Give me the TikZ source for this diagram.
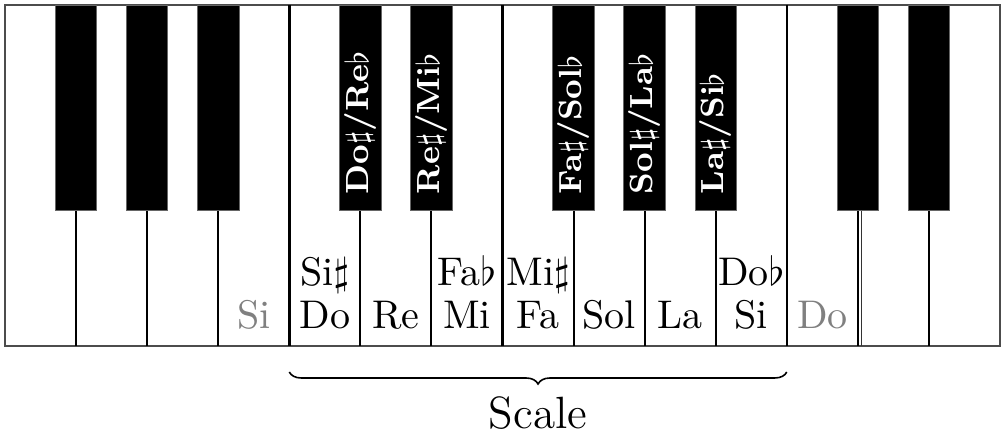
\documentclass[tikz,border=0pt]{standalone}
\usetikzlibrary{decorations.pathreplacing}
\begin{document}
\begin{tikzpicture}[x=0.25pt,y=-0.25pt,
  frame/.style={draw=black!70,line width=0.35pt},
  sep/.style={draw=black,line width=0.5pt},
  septhick/.style={draw=black,line width=0.8pt},
  septhin/.style={draw=black!80,line width=0.35pt},
  blackkey/.style={fill=black,draw=black!60,line width=0.2pt},
  note/.style={inner sep=0pt,anchor=base,font=\fontsize{10}{12}\selectfont},
  ghost/.style={note,text=black!50},
  blabel/.style={inner sep=0pt,anchor=west,rotate=90,text=white,font=\footnotesize\bfseries},
  scalebrace/.style={decorate,decoration={brace,mirror,amplitude=3pt},line width=0.4pt}]
\useasboundingbox (0,0) rectangle (1002,434);
\fill[white] (0,0) rectangle (1002,434);
\def\w{71.07}
% white keys frame
\draw[frame] (5,5) rectangle (1000,346);
% separators below black keys
\foreach \k in {1,2,3,5,6,8,9,10,12,13}
  \draw[sep] ({5+\k*\w},210) -- ({5+\k*\w},346);
% full-height separators
\draw[septhick] ({5+4*\w},5) -- ({5+4*\w},346);
\draw[septhick] ({5+7*\w},5) -- ({5+7*\w},346);
\draw[sep] ({5+11*\w},5) -- ({5+11*\w},346);
\draw[septhin] ({8.4+12*\w},210) -- ({8.4+12*\w},346);
% black keys
\foreach \k in {1,2,3,5,6,8,9,10,12,13}
  \draw[blackkey] ({5+\k*\w-20.75},5) rectangle ({5+\k*\w+20.75},210);
% black key labels
\node[blabel] (b5) at ({5+5*\w},195) {Do$\sharp$/Re$\flat$};
\node[blabel] (b6) at ({5+6*\w},195) {Re$\sharp$/Mi$\flat$};
\node[blabel] (b8) at ({5+8*\w},195) {Fa$\sharp$/Sol$\flat$};
\node[blabel] (b9) at ({5+9*\w},195) {Sol$\sharp$/La$\flat$};
\node[blabel] (b10) at ({5+10*\w},195) {La$\sharp$/Si$\flat$};
% white key labels
\node[ghost] (w3) at ({5+3.5*\w},329) {Si};
\node[note] (w4) at ({5+4.5*\w},329) {Do};
\node[note] (w4u) at ({5+4.5*\w},286) {Si$\sharp$};
\node[note] (w5) at ({5+5.5*\w},329) {Re};
\node[note] (w6) at ({5+6.5*\w},329) {Mi};
\node[note] (w6u) at ({5+6.5*\w},286) {Fa$\flat$};
\node[note] (w7) at ({5+7.5*\w},329) {Fa};
\node[note] (w7u) at ({5+7.5*\w},286) {Mi$\sharp$};
\node[note] (w8) at ({5+8.5*\w},329) {Sol};
\node[note] (w9) at ({5+9.5*\w},329) {La};
\node[note] (w10) at ({5+10.5*\w},329) {Si};
\node[note] (w10u) at ({5+10.5*\w},286) {Do$\flat$};
\node[ghost] (w11) at ({5+11.5*\w},329) {Do};
% brace
\coordinate (bl) at ({5+4*\w},372);
\coordinate (br) at ({5+11*\w},372);
\draw[scalebrace] (bl) -- (br);
\node[inner sep=0pt,anchor=base,font=\fontsize{11.3}{14}\selectfont] (scale) at (538,429) {Scale};
\end{tikzpicture}
\end{document}
